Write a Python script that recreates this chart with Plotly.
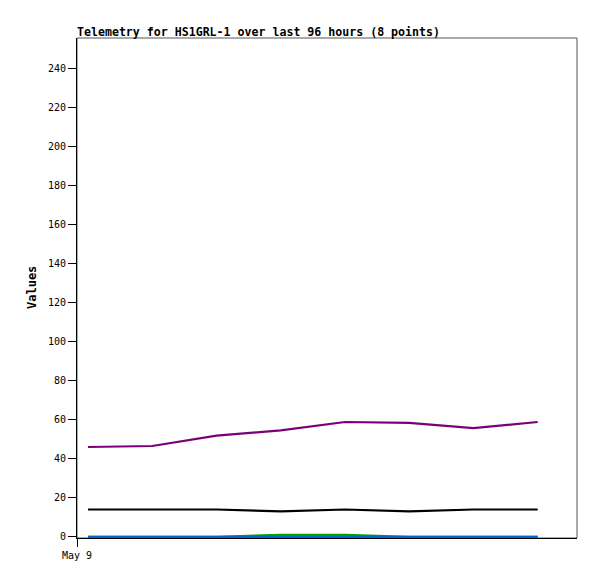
import plotly.graph_objects as go

times = ["2024-05-09 02:07", "2024-05-09 14:27", "2024-05-10 02:47", "2024-05-10 15:07",
         "2024-05-11 03:27", "2024-05-11 15:47", "2024-05-12 04:07", "2024-05-12 16:27"]
purple_vals = [46.0, 46.5, 51.8, 54.5, 58.8, 58.3, 55.7, 58.8]
black_vals = [14, 14, 14, 13, 14, 13, 14, 14]
green_vals = [0, 0, 0, 1, 1, 0, 0, 0]
blue_vals = [0, 0, 0, 0, 0, 0, 0, 0]

x_range = ["2024-05-09 00:00", "2024-05-13 00:00"]
y_range = [-0.6, 255.4]
y_ticks = list(range(0, 241, 20))
x_tickvals = ["2024-05-09 00:00"]
x_ticktext = ["May 9"]

title_text = "Telemetry for HS1GRL-1 over last 96 hours (8 points)"
y_title = "Values"

MONO = "DejaVu Sans Mono, Liberation Mono, monospace"

# page body adds an 8px offset
W, H = 581, 563
L, R, T, B = 69, 12, 30, 33

fig = go.Figure()
series = [
    (purple_vals, "#7a007a"),
    (black_vals, "#000000"),
    (green_vals, "#00a000"),
    (blue_vals, "#0066cc"),
]
for vals, color in series:
    fig.add_trace(go.Scatter(x=times, y=vals, mode="lines",
                             line=dict(color=color, width=2.2),
                             showlegend=False, hoverinfo="skip"))

fig.add_shape(type="rect", xref="paper", yref="paper", x0=0, y0=0, x1=1, y1=1,
              line=dict(color="#555555", width=1), layer="below")

fig.update_layout(
    width=W, height=H,
    margin=dict(l=L, r=R, t=T, b=B, autoexpand=False),
    paper_bgcolor="white", plot_bgcolor="white",
    font=dict(family=MONO, size=10, color="black"),
    title=dict(text="<b>" + title_text + "</b>", x=L / W, xanchor="left",
               xref="container", yref="container", y=1 - 24 / H, yanchor="middle",
               font=dict(family=MONO, size=11.6, color="black")),
    xaxis=dict(type="date", range=x_range, tickmode="array",
               tickvals=x_tickvals, ticktext=x_ticktext, automargin=False,
               showgrid=False, zeroline=False, showline=True, linecolor="black",
               linewidth=1, ticks="outside", ticklen=8, tickwidth=1.3, tickcolor="black",
               tickfont=dict(family=MONO, size=10)),
    yaxis=dict(range=y_range, tickmode="array", tickvals=y_ticks, automargin=False,
               showgrid=False, zeroline=False, showline=True, linecolor="black",
               linewidth=1, ticks="outside", ticklen=8, tickwidth=1.3, tickcolor="black",
               ticksuffix="\u00a0",
               tickfont=dict(family=MONO, size=10)),
    annotations=[dict(text="<b>" + y_title + "</b>", xref="paper", yref="paper",
                      x=(24 - L) / (W - L - R), y=0.5, textangle=-90, showarrow=False,
                      xanchor="center", yanchor="middle",
                      font=dict(family=MONO, size=12, color="black"))],
)

fig.write_html("out.html")
